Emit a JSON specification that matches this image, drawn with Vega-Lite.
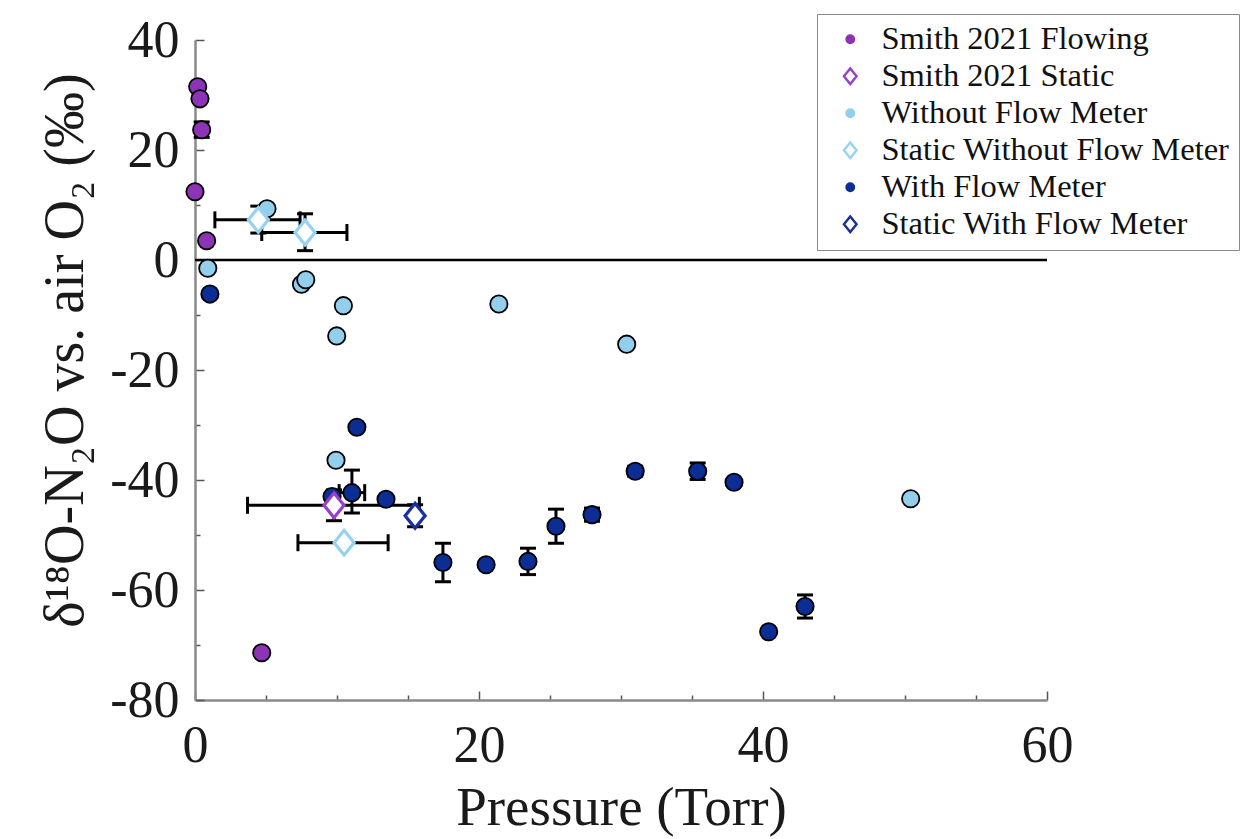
{
  "$schema": "https://vega.github.io/schema/vega-lite/v6.json",
  "width": 852,
  "height": 660,
  "autosize": {"type": "none"},
  "padding": {"left": 195, "top": 40, "right": 200, "bottom": 139},
  "background": "white",
  "config": {
    "view": {"stroke": null},
    "font": "Liberation Serif"
  },
  "datasets": {
    "pts": [
      {"s": "Smith 2021 Flowing", "x": 0.19, "y": 31.5},
      {"s": "Smith 2021 Flowing", "x": 0.35, "y": 29.3},
      {"s": "Smith 2021 Flowing", "x": 0.47, "y": 23.7, "ylo": 22.3, "yhi": 25.1},
      {"s": "Smith 2021 Flowing", "x": 0.0, "y": 12.4},
      {"s": "Smith 2021 Flowing", "x": 0.82, "y": 3.5},
      {"s": "Smith 2021 Flowing", "x": 4.7, "y": -71.4},
      {"s": "Without Flow Meter", "x": 0.9, "y": -1.5},
      {"s": "Without Flow Meter", "x": 5.07, "y": 9.3},
      {"s": "Without Flow Meter", "x": 7.5, "y": -4.4},
      {"s": "Without Flow Meter", "x": 7.8, "y": -3.6},
      {"s": "Without Flow Meter", "x": 10.45, "y": -8.3},
      {"s": "Without Flow Meter", "x": 9.98, "y": -13.8},
      {"s": "Without Flow Meter", "x": 21.4, "y": -8.0},
      {"s": "Without Flow Meter", "x": 30.4, "y": -15.3},
      {"s": "Without Flow Meter", "x": 9.93, "y": -36.4},
      {"s": "Without Flow Meter", "x": 50.4, "y": -43.4},
      {"s": "With Flow Meter", "x": 1.05, "y": -6.2},
      {"s": "With Flow Meter", "x": 11.4, "y": -30.4},
      {"s": "With Flow Meter", "x": 9.65, "y": -43.0},
      {"s": "With Flow Meter", "x": 11.05, "y": -42.3, "xlo": 10.15, "xhi": 11.95, "ylo": -46.0, "yhi": -38.2},
      {"s": "With Flow Meter", "x": 13.45, "y": -43.5},
      {"s": "With Flow Meter", "x": 17.46, "y": -55.0, "ylo": -58.5, "yhi": -51.5},
      {"s": "With Flow Meter", "x": 20.5, "y": -55.4},
      {"s": "With Flow Meter", "x": 23.45, "y": -54.8, "ylo": -57.2, "yhi": -52.4},
      {"s": "With Flow Meter", "x": 25.42, "y": -48.4, "ylo": -51.5, "yhi": -45.3},
      {"s": "With Flow Meter", "x": 27.96, "y": -46.3, "ylo": -47.5, "yhi": -45.1},
      {"s": "With Flow Meter", "x": 31.0, "y": -38.4, "ylo": -39.3, "yhi": -37.5},
      {"s": "With Flow Meter", "x": 35.4, "y": -38.4, "ylo": -39.9, "yhi": -36.9},
      {"s": "With Flow Meter", "x": 37.96, "y": -40.4},
      {"s": "With Flow Meter", "x": 40.4, "y": -67.6},
      {"s": "With Flow Meter", "x": 42.96, "y": -63.0, "ylo": -65.1, "yhi": -60.9},
      {"s": "Smith 2021 Static", "x": 9.79, "y": -44.6, "xlo": 3.7, "xhi": 15.8, "ylo": -47.4, "yhi": -41.8},
      {"s": "Static Without Flow Meter", "x": 4.46, "y": 7.3, "xlo": 1.4, "xhi": 7.4, "ylo": 4.9, "yhi": 9.8},
      {"s": "Static Without Flow Meter", "x": 7.75, "y": 5.0, "xlo": 4.7, "xhi": 10.7, "ylo": 1.7, "yhi": 8.4},
      {"s": "Static Without Flow Meter", "x": 10.5, "y": -51.4, "xlo": 7.25, "xhi": 13.6},
      {"s": "Static With Flow Meter", "x": 15.5, "y": -46.5, "ylo": -48.5, "yhi": -44.5}
    ],
    "zero": [{"ref": 0}]
  },
  "layer": [
    {
      "data": {"name": "zero"},
      "mark": {"type": "rule", "color": "black", "strokeWidth": 2.5},
      "encoding": {
        "y": {
          "field": "ref", "type": "quantitative",
          "scale": {"domain": [-80, 40], "nice": false},
          "axis": {
            "orient": "left",
            "values": [-80, -75, -70, -65, -60, -55, -50, -45, -40, -35, -30, -25, -20, -15, -10, -5, 0, 5, 10, 15, 20, 25, 30, 35, 40],
            "labelExpr": "datum.value % 20 === 0 ? replace(datum.label, '−', '-') : ''",
            "grid": false,
            "domainColor": "#8a8a8a", "domainWidth": 2.5,
            "tickColor": "#555555", "tickWidth": 1.5,
            "tickSize": {"condition": {"test": "datum.value % 20 === 0", "value": -9}, "value": -5},
            "labelFont": "Liberation Serif", "labelFontSize": 52, "labelColor": "#1a1a1a",
            "labelPadding": 25, "labelFlush": false, "labelOverlap": false,
            "title": "δ¹⁸O-N₂O vs. air O₂ (‰)",
            "titleFont": "Liberation Serif", "titleFontSize": 56, "titleFontWeight": "normal", "titleColor": "#1a1a1a",
            "titleX": -130, "titleY": 310, "titleBaseline": "middle", "titleAngle": -90
          }
        }
      }
    },
    {
      "data": {"name": "pts"},
      "transform": [{"filter": "isValid(datum.ylo)"}],
      "mark": {"type": "rule", "color": "black", "strokeWidth": 3},
      "encoding": {
        "x": {
          "field": "x", "type": "quantitative",
          "scale": {"domain": [0, 60], "nice": false},
          "axis": {
            "orient": "bottom",
            "values": [0, 5, 10, 15, 20, 25, 30, 35, 40, 45, 50, 55, 60],
            "labelExpr": "datum.value % 20 === 0 ? replace(datum.label, '−', '-') : ''",
            "grid": false,
            "domainColor": "#8a8a8a", "domainWidth": 2.5,
            "tickColor": "#555555", "tickWidth": 1.5,
            "tickSize": {"condition": {"test": "datum.value % 20 === 0", "value": -9}, "value": -5},
            "labelFont": "Liberation Serif", "labelFontSize": 52, "labelColor": "#1a1a1a",
            "labelPadding": 29, "labelFlush": false, "labelOverlap": false,
            "title": "Pressure (Torr)",
            "titleFont": "Liberation Serif", "titleFontSize": 55, "titleFontWeight": "normal", "titleColor": "#1a1a1a",
            "titlePadding": 6
          }
        },
        "y": {"field": "ylo", "type": "quantitative"},
        "y2": {"field": "yhi"}
      }
    },
    {
      "data": {"name": "pts"},
      "transform": [{"filter": "isValid(datum.ylo)"}, {"fold": ["ylo", "yhi"], "as": ["end", "yv"]}],
      "mark": {"type": "tick", "orient": "horizontal", "color": "black", "size": 16, "thickness": 3, "opacity": 1},
      "encoding": {
        "x": {"field": "x", "type": "quantitative"},
        "y": {"field": "yv", "type": "quantitative"}
      }
    },
    {
      "data": {"name": "pts"},
      "transform": [{"filter": "isValid(datum.xlo)"}],
      "mark": {"type": "rule", "color": "black", "strokeWidth": 3},
      "encoding": {
        "x": {"field": "xlo", "type": "quantitative"},
        "x2": {"field": "xhi"},
        "y": {"field": "y", "type": "quantitative"}
      }
    },
    {
      "data": {"name": "pts"},
      "transform": [{"filter": "isValid(datum.xlo)"}, {"fold": ["xlo", "xhi"], "as": ["end", "xv"]}],
      "mark": {"type": "tick", "orient": "vertical", "color": "black", "size": 17, "thickness": 3, "opacity": 1},
      "encoding": {
        "x": {"field": "xv", "type": "quantitative"},
        "y": {"field": "y", "type": "quantitative"}
      }
    },
    {
      "data": {"name": "pts"},
      "transform": [{"filter": "indexof(datum.s, 'Static') < 0"}],
      "mark": {
        "type": "point", "filled": true, "shape": "circle",
        "fill": {"expr": "scale('color', datum.s)"},
        "stroke": "black", "strokeWidth": 1.8, "size": 300, "opacity": 1
      },
      "encoding": {
        "x": {"field": "x", "type": "quantitative"},
        "y": {"field": "y", "type": "quantitative"}
      }
    },
    {
      "data": {"name": "pts"},
      "transform": [{"filter": "indexof(datum.s, 'Static') >= 0"}],
      "mark": {
        "type": "point", "filled": false,
        "fill": {"expr": "indexof(datum.s || datum.value, 'Static') >= 0 ? 'white' : scale('color', datum.s || datum.value)"},
        "strokeWidth": 3.2,
        "size": 138, "opacity": 1
      },
      "encoding": {
        "x": {"field": "x", "type": "quantitative"},
        "y": {"field": "y", "type": "quantitative"},
        "color": {
          "field": "s", "type": "nominal",
          "scale": {
            "domain": ["Smith 2021 Flowing", "Smith 2021 Static", "Without Flow Meter", "Static Without Flow Meter", "With Flow Meter", "Static With Flow Meter"],
            "range": ["#8d33b5", "#9a3fc9", "#93cfec", "#97d2f0", "#0b2d94", "#1a2f9e"]
          },
          "legend": {
            "title": null,
            "orient": "none", "legendX": 622, "legendY": -26,
            "fillColor": "white", "strokeColor": "#8a8a8a",
            "padding": 9, "rowPadding": 4,
            "symbolOffset": 8, "labelOffset": 15,
            "symbolSize": 55, "symbolOpacity": 1, "symbolStrokeWidth": 2.4,
            "labelFont": "Liberation Serif", "labelFontSize": 32.5, "labelColor": "#111111", "labelLimit": 600
          }
        },
        "shape": {
          "field": "s", "type": "nominal",
          "scale": {
            "domain": ["Smith 2021 Flowing", "Smith 2021 Static", "Without Flow Meter", "Static Without Flow Meter", "With Flow Meter", "Static With Flow Meter"],
            "range": ["circle", "M-1.7,0L0,-2.1L1.7,0L0,2.1Z", "circle", "M-1.7,0L0,-2.1L1.7,0L0,2.1Z", "circle", "M-1.7,0L0,-2.1L1.7,0L0,2.1Z"]
          }
        }
      }
    }
  ]
}
